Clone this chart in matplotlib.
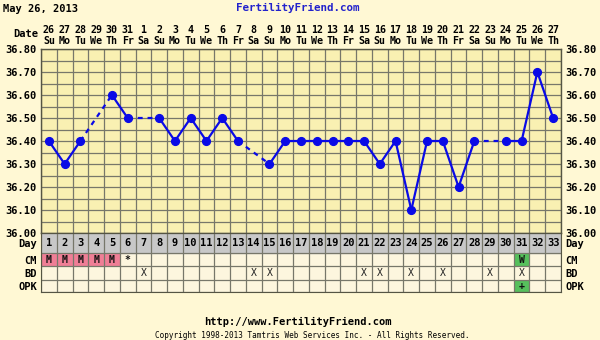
import matplotlib.pyplot as plt
import numpy as np

# chart data
cycle_days = list(range(1, 34))
date_nums = [26, 27, 28, 29, 30, 31] + list(range(1, 28))
weekdays = ["Su", "Mo", "Tu", "We", "Th", "Fr", "Sa"] * 5
weekdays = weekdays[:33]
temps = [36.40, 36.30, 36.40, None, 36.60, 36.50, None, 36.50, 36.40, 36.50,
         36.40, 36.50, 36.40, None, 36.30, 36.40, 36.40, 36.40, 36.40, 36.40,
         36.40, 36.30, 36.40, 36.10, 36.40, 36.40, 36.20, 36.40, None, 36.40,
         36.40, 36.70, 36.50]
cm_marks = {1: "M", 2: "M", 3: "M", 4: "M", 5: "M", 6: "*", 31: "W"}
bd_days = [7, 14, 15, 21, 22, 24, 26, 29, 31]
opk_marks = {31: "+"}
row_names = ["Day", "CM", "BD", "OPK"]

# styling
BG = "#FFF8D4"
PLOT_BG = "#F9F0B2"
CELL_BG = "#FDF6DE"
GRID = "#77776A"
BLUE = "#0A0AE6"
MONO = "DejaVu Sans Mono"
W, H = 600, 340

fig = plt.figure(figsize=(6, 3.4), dpi=100, facecolor=BG)

def px_axes(x0, y0, x1, y1):
    return fig.add_axes([x0 / W, 1 - y1 / H, (x1 - x0) / W, (y1 - y0) / H])

# temperature chart
ax = px_axes(41, 49, 561, 233)
ax.set_facecolor(PLOT_BG)
ax.set_xlim(0.5, 33.5)
ax.set_ylim(36.0, 36.8)
ax.set_xticks(cycle_days)
ax.set_xticklabels([f"{d}\n{w}" for d, w in zip(date_nums, weekdays)],
                   fontfamily=MONO, fontweight="bold", fontsize=7.2, linespacing=1.1)
ax.set_xticks(np.arange(0.5, 34, 1), minor=True)
ax.set_yticks(np.arange(36.0, 36.81, 0.1))
ax.set_yticklabels([f"{v:.2f}" for v in np.arange(36.0, 36.81, 0.1)],
                   fontfamily=MONO, fontweight="bold", fontsize=7.5)
ax.set_yticks(np.arange(36.0, 36.81, 0.05), minor=True)
ax.xaxis.tick_top()
ax.tick_params(which="both", length=0)
ax.tick_params(axis="x", pad=2)
ax.tick_params(axis="y", labelright=True, pad=3)
ax.grid(which="minor", axis="x", color=GRID, lw=0.9)
ax.grid(which="both", axis="y", color=GRID, lw=0.9)
ax.set_axisbelow(True)
for s in ax.spines.values():
    s.set_color("#555544")
    s.set_linewidth(1.0)

valid = [(d, t) for d, t in zip(cycle_days, temps) if t is not None]
for (d0, t0), (d1, t1) in zip(valid[:-1], valid[1:]):
    style = "-" if d1 - d0 == 1 else (0, (2.2, 2.2))
    ax.plot([d0, d1], [t0, t1], color=BLUE, lw=1.6, ls=style, zorder=3)
ax.plot([d for d, _ in valid], [t for _, t in valid], "o", color=BLUE,
        ms=5.6, zorder=4)

# fertility signs table
ax2 = px_axes(41, 233, 561, 292)
row_edges = [0, 20, 33, 47, 59]
ax2.set_xlim(0.5, 33.5)
ax2.set_ylim(59, 0)
ax2.set_facecolor(CELL_BG)
ax2.axhspan(0, 20, color="#C8C8C8", zorder=0)
ax2.set_xticks(np.arange(0.5, 34, 1), minor=True)
ax2.set_xticks([])
ax2.set_yticks(row_edges, minor=True)
ax2.set_yticks([(a + b) / 2 for a, b in zip(row_edges[:-1], row_edges[1:])])
ax2.set_yticklabels(row_names, fontfamily=MONO, fontweight="bold", fontsize=7.5)
ax2.tick_params(which="both", length=0)
ax2.tick_params(axis="y", labelright=True, pad=3)
ax2.grid(which="minor", color=GRID, lw=0.9)
for s in ax2.spines.values():
    s.set_color("#555544")

for d in cycle_days:
    ax2.text(d, 10.5, str(d), ha="center", va="center", fontfamily=MONO,
             fontweight="bold", fontsize=7.5)
for d, m in cm_marks.items():
    if m == "M":
        ax2.bar(d, 13, bottom=20, width=1, color="#F07E96", zorder=0.5)
    elif m == "W":
        ax2.bar(d, 13, bottom=20, width=1, color="#56C05C", zorder=0.5)
    ax2.text(d, 27, m, ha="center", va="center", fontfamily=MONO,
             fontweight="bold", fontsize=7, color="#111111")
for d in bd_days:
    ax2.text(d, 40, "X", ha="center", va="center", fontfamily=MONO,
             fontsize=7, color="#222222")
for d, m in opk_marks.items():
    ax2.bar(d, 12, bottom=47, width=1, color="#56C05C", zorder=0.5)
    ax2.text(d, 53, m, ha="center", va="center", fontfamily=MONO,
             fontweight="bold", fontsize=7, color="#111111")

# header and footer
fig.text(3 / W, 1 - 9 / H, "May 26, 2013", fontfamily=MONO, fontweight="bold",
         fontsize=7.5, va="center", ha="left")
fig.text(298 / W, 1 - 8 / H, "FertilityFriend.com", fontfamily=MONO,
         fontweight="bold", fontsize=7.8, color="#2222CC", va="center", ha="center")
fig.text(38 / W, 1 - 34 / H, "Date", fontfamily=MONO, fontweight="bold",
         fontsize=7.5, va="center", ha="right")
fig.text(298 / W, 1 - 322 / H, "http://www.FertilityFriend.com", fontfamily=MONO,
         fontweight="bold", fontsize=7.5, va="center", ha="center")
fig.text(312 / W, 1 - 336 / H,
         "Copyright 1998-2013 Tamtris Web Services Inc. - All Rights Reserved.",
         fontfamily=MONO, fontsize=5.5, va="center", ha="center")

fig.savefig("out.png", dpi=100, facecolor=BG)
